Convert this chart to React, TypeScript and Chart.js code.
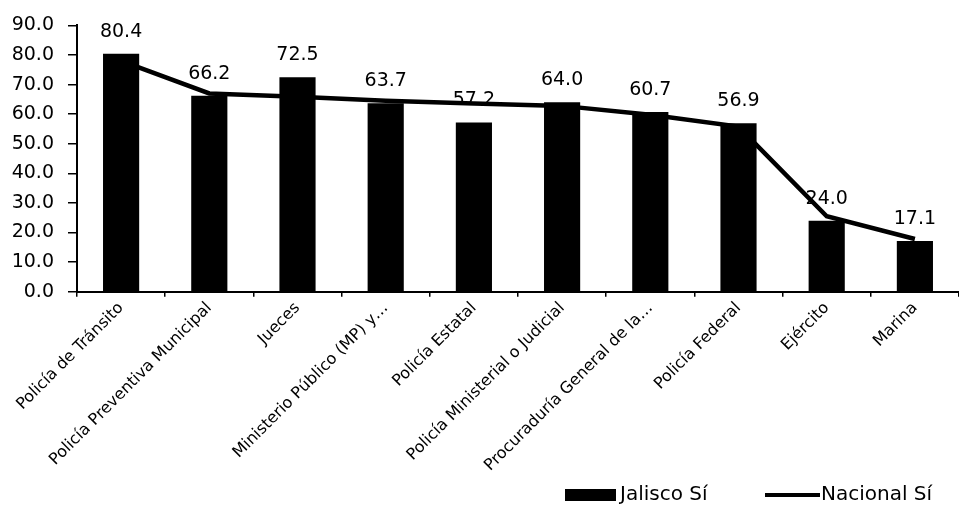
import React, { useEffect, useRef } from "react";
import { Chart, registerables } from "chart.js";

Chart.register(...registerables);

const categories = [
  "Policía de Tránsito",
  "Policía Preventiva Municipal",
  "Jueces",
  "Ministerio Público (MP) y…",
  "Policía Estatal",
  "Policía Ministerial o Judicial",
  "Procuraduría General de la…",
  "Policía Federal",
  "Ejército",
  "Marina",
];

const jaliscoSi = [80.4, 66.2, 72.5, 63.7, 57.2, 64.0, 60.7, 56.9, 24.0, 17.1];
const nacionalSi = [78.0, 67.0, 65.9, 64.5, 63.6, 62.8, 59.8, 55.8, 25.5, 17.8];

const seriesLabels = ["Jalisco Sí", "Nacional Sí"];
const yMin = 0;
const yMax = 90;
const yStep = 10;

const FONT = "'DejaVu Sans', sans-serif";

const barLabelPlugin = {
  id: "barLabels",
  beforeDatasetsDraw(chart: any) {
    const ctx = chart.ctx;
    const meta = chart.getDatasetMeta(0);
    const data = chart.data.datasets[0].data as number[];
    ctx.save();
    ctx.fillStyle = "#000";
    ctx.font = `19px ${FONT}`;
    ctx.textAlign = "center";
    ctx.textBaseline = "middle";
    meta.data.forEach((el: any, i: number) => {
      ctx.fillText(data[i].toFixed(1), el.x, el.y - 22);
    });
    ctx.restore();
  },
};

const legendPlugin = {
  id: "customLegend",
  afterDraw(chart: any) {
    const ctx = chart.ctx;
    const yc = 495;
    ctx.save();
    ctx.font = `20px ${FONT}`;
    ctx.textBaseline = "middle";
    ctx.textAlign = "left";
    ctx.fillStyle = "#000";
    ctx.fillRect(565, yc - 6, 51, 12);
    ctx.fillText(chart.data.datasets[0].label, 620, yc);
    ctx.strokeStyle = "#000";
    ctx.lineWidth = 4;
    ctx.beginPath();
    ctx.moveTo(765, yc);
    ctx.lineTo(820, yc);
    ctx.stroke();
    ctx.fillText(chart.data.datasets[1].label, 821, yc);
    ctx.restore();
  },
};

export default function App() {
  const canvasRef = useRef<HTMLCanvasElement | null>(null);

  useEffect(() => {
    document.body.style.margin = "0";
    const canvas = canvasRef.current;
    if (!canvas) return;
    const chart = new Chart(canvas, {
      type: "bar",
      data: {
        labels: categories,
        datasets: [
          {
            type: "bar",
            label: seriesLabels[0],
            data: jaliscoSi,
            backgroundColor: "#000",
            borderWidth: 0,
            barPercentage: 0.41,
            categoryPercentage: 1,
            order: 1,
          },
          {
            type: "line",
            label: seriesLabels[1],
            data: nacionalSi,
            borderColor: "#000",
            backgroundColor: "#000",
            borderWidth: 4.5,
            pointRadius: 0,
            tension: 0,
            fill: false,
            order: 0,
          } as any,
        ],
      },
      options: {
        animation: false,
        responsive: true,
        maintainAspectRatio: false,
        layout: { padding: { top: 16, left: 0, right: 0, bottom: 20 } },
        plugins: {
          legend: { display: false },
          tooltip: { enabled: false },
          title: { display: false },
        },
        scales: {
          x: {
            offset: true,
            grid: {
              display: true,
              drawOnChartArea: false,
              drawTicks: true,
              tickLength: 5,
              color: "#000",
              lineWidth: 1.5,
              offset: true,
            },
            border: { display: true, color: "#000", width: 2 },
            ticks: {
              autoSkip: false,
              minRotation: 45,
              maxRotation: 45,
              color: "#000",
              font: { family: FONT, size: 16 },
              padding: 2,
            },
            afterFit(scale: any) {
              scale.height = 195.3;
            },
          },
          y: {
            min: yMin,
            max: yMax,
            grid: {
              display: true,
              drawOnChartArea: false,
              drawTicks: true,
              tickLength: 9,
              color: "#000",
              lineWidth: 1.5,
            },
            border: { display: true, color: "#000", width: 2 },
            ticks: {
              stepSize: yStep,
              color: "#000",
              font: { family: FONT, size: 19 },
              padding: 14,
              callback: (v: any) => Number(v).toFixed(1),
            },
            afterFit(scale: any) {
              scale.width = 77;
            },
          },
        },
      },
      plugins: [barLabelPlugin, legendPlugin],
    });
    return () => chart.destroy();
  }, []);

  return (
    <div style={{ position: "relative", width: 959, height: 507 }}>
      <canvas ref={canvasRef} />
    </div>
  );
}
